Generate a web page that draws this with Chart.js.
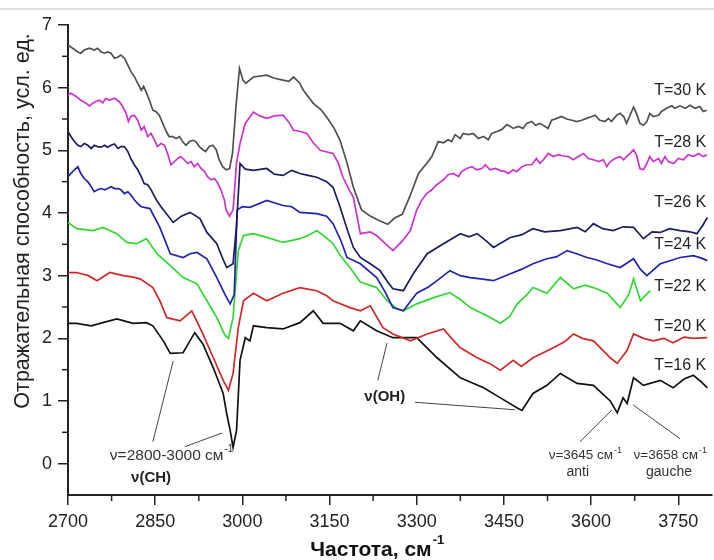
<!DOCTYPE html>
<html>
<head>
<meta charset="utf-8">
<script src="https://cdn.jsdelivr.net/npm/chart.js@4.4.1/dist/chart.umd.min.js"></script>
<style>
  html, body { margin: 0; padding: 0; background: #fff; }
  #wrap { position: relative; width: 714px; height: 560px; }
  #topline { position: absolute; left: 0; top: 8px; width: 714px; height: 2px; background: #e2e2e2; }
</style>
</head>
<body>
<div id="wrap">
  <canvas id="myChart" width="714" height="560"></canvas>
  <div id="topline"></div>
</div>
<script>
// spectra: frequency (cm-1) and reflectance (arb. units)
const freq30 = [2700,2708,2717,2722,2728,2737,2745,2751,2757,2763,2768,2774,2780,2786,2791,2797,2803,2808,2814,2820,2826,2830,2834,2840,2846,2851,2857,2863,2869,2874,2880,2886,2892,2897,2903,2909,2915,2920,2926,2932,2937,2943,2949,2955,2960,2966,2972,2978,2983,2989,2995,3001,3006,3010,3019,3042,3055,3070,3080,3088,3098,3105,3122,3135,3145,3158,3168,3180,3191,3205,3220,3235,3250,3262,3275,3288,3303,3317,3326,3337,3346,3354,3360,3366,3375,3380,3389,3397,3406,3415,3423,3429,3438,3446,3455,3461,3466,3475,3483,3489,3498,3504,3512,3521,3526,3532,3541,3549,3558,3567,3575,3584,3592,3601,3607,3615,3624,3630,3635,3644,3650,3656,3661,3667,3673,3678,3684,3690,3696,3701,3707,3716,3721,3730,3739,3744,3753,3762,3770,3779,3787,3793,3799];
const t30 = [6.68,6.63,6.57,6.55,6.60,6.63,6.60,6.63,6.57,6.55,6.57,6.55,6.47,6.49,6.52,6.47,6.36,6.26,6.18,6.07,5.96,6.02,5.94,5.80,5.64,5.62,5.56,5.43,5.30,5.22,5.22,5.19,5.22,5.14,5.08,5.14,5.16,5.14,5.06,5.01,4.98,5.06,5.08,5.01,4.85,4.74,4.69,4.71,4.95,5.70,6.31,6.12,6.07,6.10,6.17,6.20,6.15,6.12,6.10,6.17,6.08,5.96,5.75,5.65,5.53,5.35,5.16,4.80,4.41,4.05,3.95,3.88,3.82,3.92,3.98,4.26,4.63,4.79,4.90,5.14,5.12,5.17,5.14,5.25,5.19,5.27,5.25,5.27,5.19,5.22,5.17,5.27,5.30,5.33,5.41,5.38,5.35,5.38,5.35,5.43,5.46,5.40,5.43,5.38,5.35,5.48,5.51,5.54,5.50,5.48,5.46,5.48,5.51,5.54,5.56,5.48,5.46,5.51,5.46,5.56,5.59,5.54,5.43,5.56,5.69,5.59,5.43,5.40,5.46,5.59,5.54,5.56,5.62,5.67,5.71,5.67,5.71,5.67,5.72,5.67,5.70,5.62,5.64];

const freq28 = [2700,2705,2714,2722,2731,2737,2742,2748,2754,2760,2765,2771,2780,2788,2794,2800,2804,2808,2814,2820,2826,2831,2837,2843,2849,2854,2860,2866,2872,2877,2883,2889,2894,2900,2906,2912,2917,2923,2929,2935,2940,2946,2952,2958,2963,2969,2972,2978,2984,2990,2996,3005,3019,3030,3042,3055,3070,3080,3088,3100,3111,3122,3134,3156,3165,3173,3185,3191,3203,3220,3231,3245,3259,3275,3289,3300,3309,3317,3326,3334,3346,3354,3363,3372,3377,3386,3395,3403,3412,3418,3426,3435,3443,3452,3458,3466,3472,3481,3489,3498,3506,3512,3518,3526,3535,3544,3552,3561,3569,3578,3587,3595,3604,3613,3621,3627,3633,3641,3650,3656,3661,3667,3673,3678,3684,3690,3696,3701,3707,3716,3721,3727,3733,3742,3750,3759,3767,3776,3785,3793,3799];
const t28 = [5.88,5.91,5.86,5.80,5.75,5.71,5.75,5.78,5.80,5.76,5.83,5.80,5.83,5.78,5.70,5.59,5.46,5.54,5.56,5.48,5.32,5.38,5.22,5.27,5.16,5.06,5.11,5.08,4.93,4.77,4.82,4.87,4.90,4.85,4.79,4.82,4.74,4.79,4.71,4.66,4.58,4.53,4.55,4.47,4.37,4.21,4.05,3.95,4.05,4.80,5.11,5.43,5.61,5.55,5.51,5.55,5.56,5.45,5.32,5.30,5.27,5.12,5.00,4.95,4.80,4.57,4.35,4.25,3.67,3.70,3.64,3.52,3.40,3.55,3.72,4.05,4.21,4.31,4.37,4.45,4.53,4.61,4.63,4.58,4.66,4.71,4.74,4.69,4.71,4.77,4.69,4.71,4.68,4.66,4.63,4.69,4.66,4.74,4.77,4.77,4.87,4.79,4.85,4.95,4.90,4.93,4.91,4.90,4.85,4.90,4.95,4.87,4.85,4.82,4.85,4.74,4.82,4.87,4.90,4.85,4.90,4.95,5.01,4.93,4.71,4.69,4.79,4.90,4.82,4.87,4.79,4.90,4.82,4.79,4.87,4.85,4.93,4.90,4.95,4.90,4.93];

const freq26 = [2700,2705,2711,2717,2722,2728,2734,2740,2745,2751,2757,2763,2768,2774,2780,2786,2791,2797,2803,2808,2814,2820,2826,2831,2837,2843,2849,2854,2860,2881,2895,2910,2927,2939,2956,2965,2973,2984,2990,2996,3005,3019,3042,3055,3070,3085,3099,3113,3128,3145,3156,3168,3180,3191,3203,3220,3237,3250,3259,3277,3294,3318,3346,3375,3390,3404,3420,3432,3461,3480,3500,3520,3547,3576,3590,3604,3620,3638,3655,3673,3690,3705,3719,3735,3753,3770,3782,3792,3800];
const t26 = [5.30,5.22,5.14,5.08,5.06,5.11,5.08,5.03,5.08,5.06,5.05,5.08,5.05,5.08,5.10,5.03,5.06,5.06,4.98,4.87,4.77,4.69,4.58,4.47,4.45,4.37,4.26,4.18,4.10,3.85,3.95,4.01,3.91,3.69,3.51,3.30,3.13,3.19,3.80,4.79,4.70,4.68,4.71,4.62,4.60,4.68,4.63,4.60,4.57,4.50,4.41,4.10,3.75,3.45,3.29,3.19,3.08,2.90,2.79,2.76,3.03,3.35,3.51,3.67,3.62,3.67,3.55,3.45,3.61,3.65,3.75,3.70,3.72,3.77,3.70,3.83,3.75,3.72,3.78,3.77,3.59,3.70,3.69,3.75,3.72,3.70,3.67,3.80,3.93];

const freq24 = [2700,2705,2711,2717,2722,2728,2734,2740,2745,2751,2757,2763,2768,2774,2780,2786,2791,2797,2803,2808,2814,2820,2826,2841,2858,2876,2898,2910,2922,2939,2956,2970,2979,2986,2991,3000,3013,3042,3070,3085,3099,3128,3145,3156,3170,3180,3203,3231,3245,3259,3277,3300,3320,3335,3357,3375,3392,3410,3432,3461,3480,3500,3524,3540,3559,3575,3593,3610,3628,3650,3673,3685,3696,3719,3740,3753,3776,3790,3800];
const t24 = [4.58,4.63,4.69,4.74,4.63,4.55,4.50,4.42,4.34,4.37,4.39,4.37,4.39,4.42,4.39,4.39,4.37,4.31,4.34,4.29,4.21,4.15,4.10,4.07,3.77,3.35,3.29,3.35,3.37,3.27,2.97,2.70,2.55,2.70,4.05,4.10,4.09,4.20,4.12,4.10,4.01,3.99,3.95,3.83,3.55,3.29,3.19,2.97,2.75,2.49,2.44,2.72,2.82,2.92,3.08,3.00,2.97,2.95,2.92,3.03,3.10,3.19,3.27,3.30,3.40,3.35,3.29,3.25,3.19,3.13,3.27,3.10,3.00,3.19,3.25,3.29,3.32,3.28,3.24];

const freq22 = [2700,2715,2743,2760,2784,2801,2818,2835,2853,2876,2898,2922,2939,2956,2970,2976,2984,2993,3002,3019,3042,3070,3099,3115,3128,3145,3156,3170,3185,3203,3231,3249,3265,3277,3300,3329,3357,3375,3392,3421,3444,3460,3473,3490,3500,3524,3547,3570,3590,3604,3628,3650,3665,3673,3685,3695,3702];
const t22 = [3.85,3.75,3.72,3.77,3.67,3.53,3.51,3.59,3.35,3.16,2.97,2.87,2.60,2.33,2.05,2.00,2.33,3.40,3.64,3.67,3.61,3.53,3.59,3.65,3.72,3.60,3.51,3.30,3.13,2.90,2.81,2.60,2.48,2.44,2.55,2.65,2.73,2.62,2.49,2.36,2.24,2.35,2.55,2.70,2.81,2.72,2.97,2.79,2.85,2.81,2.72,2.49,2.70,2.95,2.60,2.70,2.76];

const freq20 = [2700,2715,2735,2750,2772,2795,2810,2824,2846,2858,2870,2893,2913,2932,2950,2967,2976,2984,2993,3002,3019,3042,3070,3099,3115,3128,3145,3156,3185,3203,3220,3242,3259,3289,3318,3346,3360,3375,3404,3425,3444,3466,3480,3500,3535,3555,3570,3585,3604,3633,3645,3662,3673,3690,3707,3725,3741,3760,3776,3800];
const t20 = [3.05,3.05,3.00,2.92,3.05,3.00,2.98,2.95,2.81,2.60,2.33,2.28,2.44,2.07,1.69,1.33,1.17,1.44,2.17,2.60,2.72,2.60,2.72,2.81,2.78,2.76,2.68,2.60,2.49,2.44,2.52,2.17,2.07,1.96,2.07,2.15,2.00,1.85,1.69,1.60,1.49,1.65,1.55,1.69,1.85,1.95,2.07,2.00,1.96,1.69,1.60,1.81,2.07,2.00,1.96,2.00,1.93,2.02,2.00,2.01];

const freq16 = [2700,2715,2740,2760,2784,2812,2835,2846,2864,2876,2898,2918,2932,2950,2967,2973,2979,2984,2990,2996,3005,3013,3019,3042,3070,3099,3122,3139,3168,3191,3203,3231,3259,3300,3335,3375,3415,3444,3473,3481,3500,3524,3547,3576,3604,3633,3645,3655,3662,3673,3690,3719,3741,3760,3776,3790,3800];
const t16 = [2.24,2.24,2.20,2.25,2.31,2.24,2.25,2.20,1.96,1.76,1.77,2.09,1.91,1.53,1.12,0.80,0.53,0.26,0.53,1.65,2.01,1.96,2.20,2.17,2.15,2.25,2.44,2.24,2.24,2.12,2.28,2.12,2.01,2.01,1.69,1.37,1.21,1.05,0.89,0.85,1.12,1.25,1.44,1.28,1.25,1.00,0.81,1.05,0.96,1.37,1.25,1.33,1.21,1.35,1.41,1.30,1.21];

const seriesNames = ["T=30 K", "T=28 K", "T=26 K", "T=24 K", "T=22 K", "T=20 K", "T=16 K"];
const seriesColors = ["#505050", "#cc33cc", "#1c1c5e", "#2222aa", "#33d633", "#cc2a2a", "#111111"];
const seriesFreq = [freq30, freq28, freq26, freq24, freq22, freq20, freq16];
const seriesVals = [t30, t28, t26, t24, t22, t20, t16];
const labelY = [5.96, 5.12, 4.16, 3.49, 2.82, 2.18, 1.57];

const xTicks = [2700, 2850, 3000, 3150, 3300, 3450, 3600, 3750];
const yTicks = [0, 1, 2, 3, 4, 5, 6, 7];

const FONT = "'Liberation Sans', Arial, sans-serif";
const ctx = document.getElementById("myChart");

const datasets = seriesNames.map((name, i) => ({
  label: name,
  data: seriesFreq[i].map((f, k) => ({ x: f, y: seriesVals[i][k] })),
  borderColor: seriesColors[i],
  borderWidth: 1.7,
  pointRadius: 0,
  tension: 0,
  fill: false,
}));

// minor ticks, axis titles, curve labels and the callouts
const extras = {
  id: "extras",
  afterDraw(chart) {
    const c = chart.ctx;
    const xs = chart.scales.x;
    const ys = chart.scales.y;
    const px = (v) => xs.getPixelForValue(v);
    const py = (v) => ys.getPixelForValue(v);
    const area = chart.chartArea;

    c.save();
    c.strokeStyle = "#222";
    c.lineWidth = 1.5;
    for (let f = 2775; f < 3800; f += 150) {
      c.beginPath();
      c.moveTo(px(f), area.bottom);
      c.lineTo(px(f), area.bottom + 6);
      c.stroke();
    }
    for (let v = 0.5; v < 7; v += 1) {
      c.beginPath();
      c.moveTo(area.left, py(v));
      c.lineTo(area.left - 6, py(v));
      c.stroke();
    }

    // y title
    c.fillStyle = "#222";
    c.save();
    c.translate(23, 221);
    c.rotate(-Math.PI / 2);
    c.font = "21.5px " + FONT;
    c.textAlign = "center";
    c.textBaseline = "middle";
    c.fillText("Отражательная способность, усл. ед.", 0, 0);
    c.restore();

    // x title with superscript
    c.font = "bold 21px " + FONT;
    c.textBaseline = "middle";
    c.textAlign = "left";
    const xt = "Частота, см";
    const wt = c.measureText(xt).width;
    c.fillStyle = "#111";
    c.fillText(xt, 376 - (wt + 10) / 2, 550);
    c.font = "bold 13px " + FONT;
    c.fillText("-1", 376 - (wt + 10) / 2 + wt + 1, 540);

    // curve labels on the right
    c.fillStyle = "#222";
    c.font = "16px " + FONT;
    c.textAlign = "right";
    seriesNames.forEach((name, i) => {
      c.fillText(name, px(3798), py(labelY[i]));
    });

    // callout lines
    c.strokeStyle = "#444";
    c.lineWidth = 1;
    const seg = (f1, v1, f2, v2) => {
      c.beginPath();
      c.moveTo(px(f1), py(v1));
      c.lineTo(px(f2), py(v2));
      c.stroke();
    };
    seg(2846, 0.35, 2881, 1.64);
    seg(2901, 0.27, 2965, 0.49);
    seg(3297, 0.98, 3469, 0.86);
    seg(3233, 1.33, 3249, 1.93);
    seg(3581, 0.35, 3636, 0.86);
    seg(3672, 0.94, 3753, 0.40);

    const supText = (f, v, main, size) => {
      c.font = size + "px " + FONT;
      c.textAlign = "left";
      c.textBaseline = "middle";
      const x = px(f), y = py(v);
      c.fillText(main, x, y);
      const w = c.measureText(main).width;
      c.font = Math.round(size * 0.65) + "px " + FONT;
      c.fillText("-1", x + w + 1, y - size * 0.4);
    };
    c.fillStyle = "#333";
    supText(2772, 0.13, "ν=2800-3000 см", 15.5);
    supText(3527, 0.13, "ν=3645 см", 13.5);
    supText(3673, 0.13, "ν=3658 см", 13.5);

    c.textAlign = "center";
    c.font = "14px " + FONT;
    c.fillText("anti", px(3577), py(-0.14));
    c.fillText("gauche", px(3734), py(-0.14));

    c.fillStyle = "#222";
    c.font = "bold 15px " + FONT;
    c.fillText("ν(CH)", px(2843), py(-0.22));
    c.fillText("ν(OH)", px(3245), py(1.06));
    c.restore();
  },
};

const config = {
  type: "line",
  data: { datasets: datasets },
  options: {
    responsive: false,
    animation: false,
    devicePixelRatio: 1,
    layout: { padding: { top: 25, right: 2, bottom: 0, left: 0 } },
    plugins: { legend: { display: false }, tooltip: { enabled: false } },
    scales: {
      x: {
        type: "linear",
        min: 2700,
        max: 3808,
        afterFit: (s) => { s.height = 65; },
        afterBuildTicks: (s) => { s.ticks = xTicks.map((v) => ({ value: v })); },
        ticks: {
          color: "#222",
          font: { size: 18, family: FONT },
          padding: 6,
          maxRotation: 0,
          callback: (v) => String(v),
        },
        grid: { drawOnChartArea: false, tickLength: 10, color: "#222", lineWidth: 1.5 },
        border: { display: true, color: "#222", width: 2 },
      },
      y: {
        min: -0.5,
        max: 7,
        afterFit: (s) => { s.width = 68; },
        afterBuildTicks: (s) => { s.ticks = yTicks.map((v) => ({ value: v })); },
        ticks: {
          color: "#222",
          font: { size: 18, family: FONT },
          padding: 6,
          callback: (v) => String(v),
        },
        grid: { drawOnChartArea: false, tickLength: 10, color: "#222", lineWidth: 1.5 },
        border: { display: true, color: "#222", width: 2 },
      },
    },
  },
  plugins: [extras],
};

const myChart = new Chart(ctx, config);
</script>
</body>
</html>
